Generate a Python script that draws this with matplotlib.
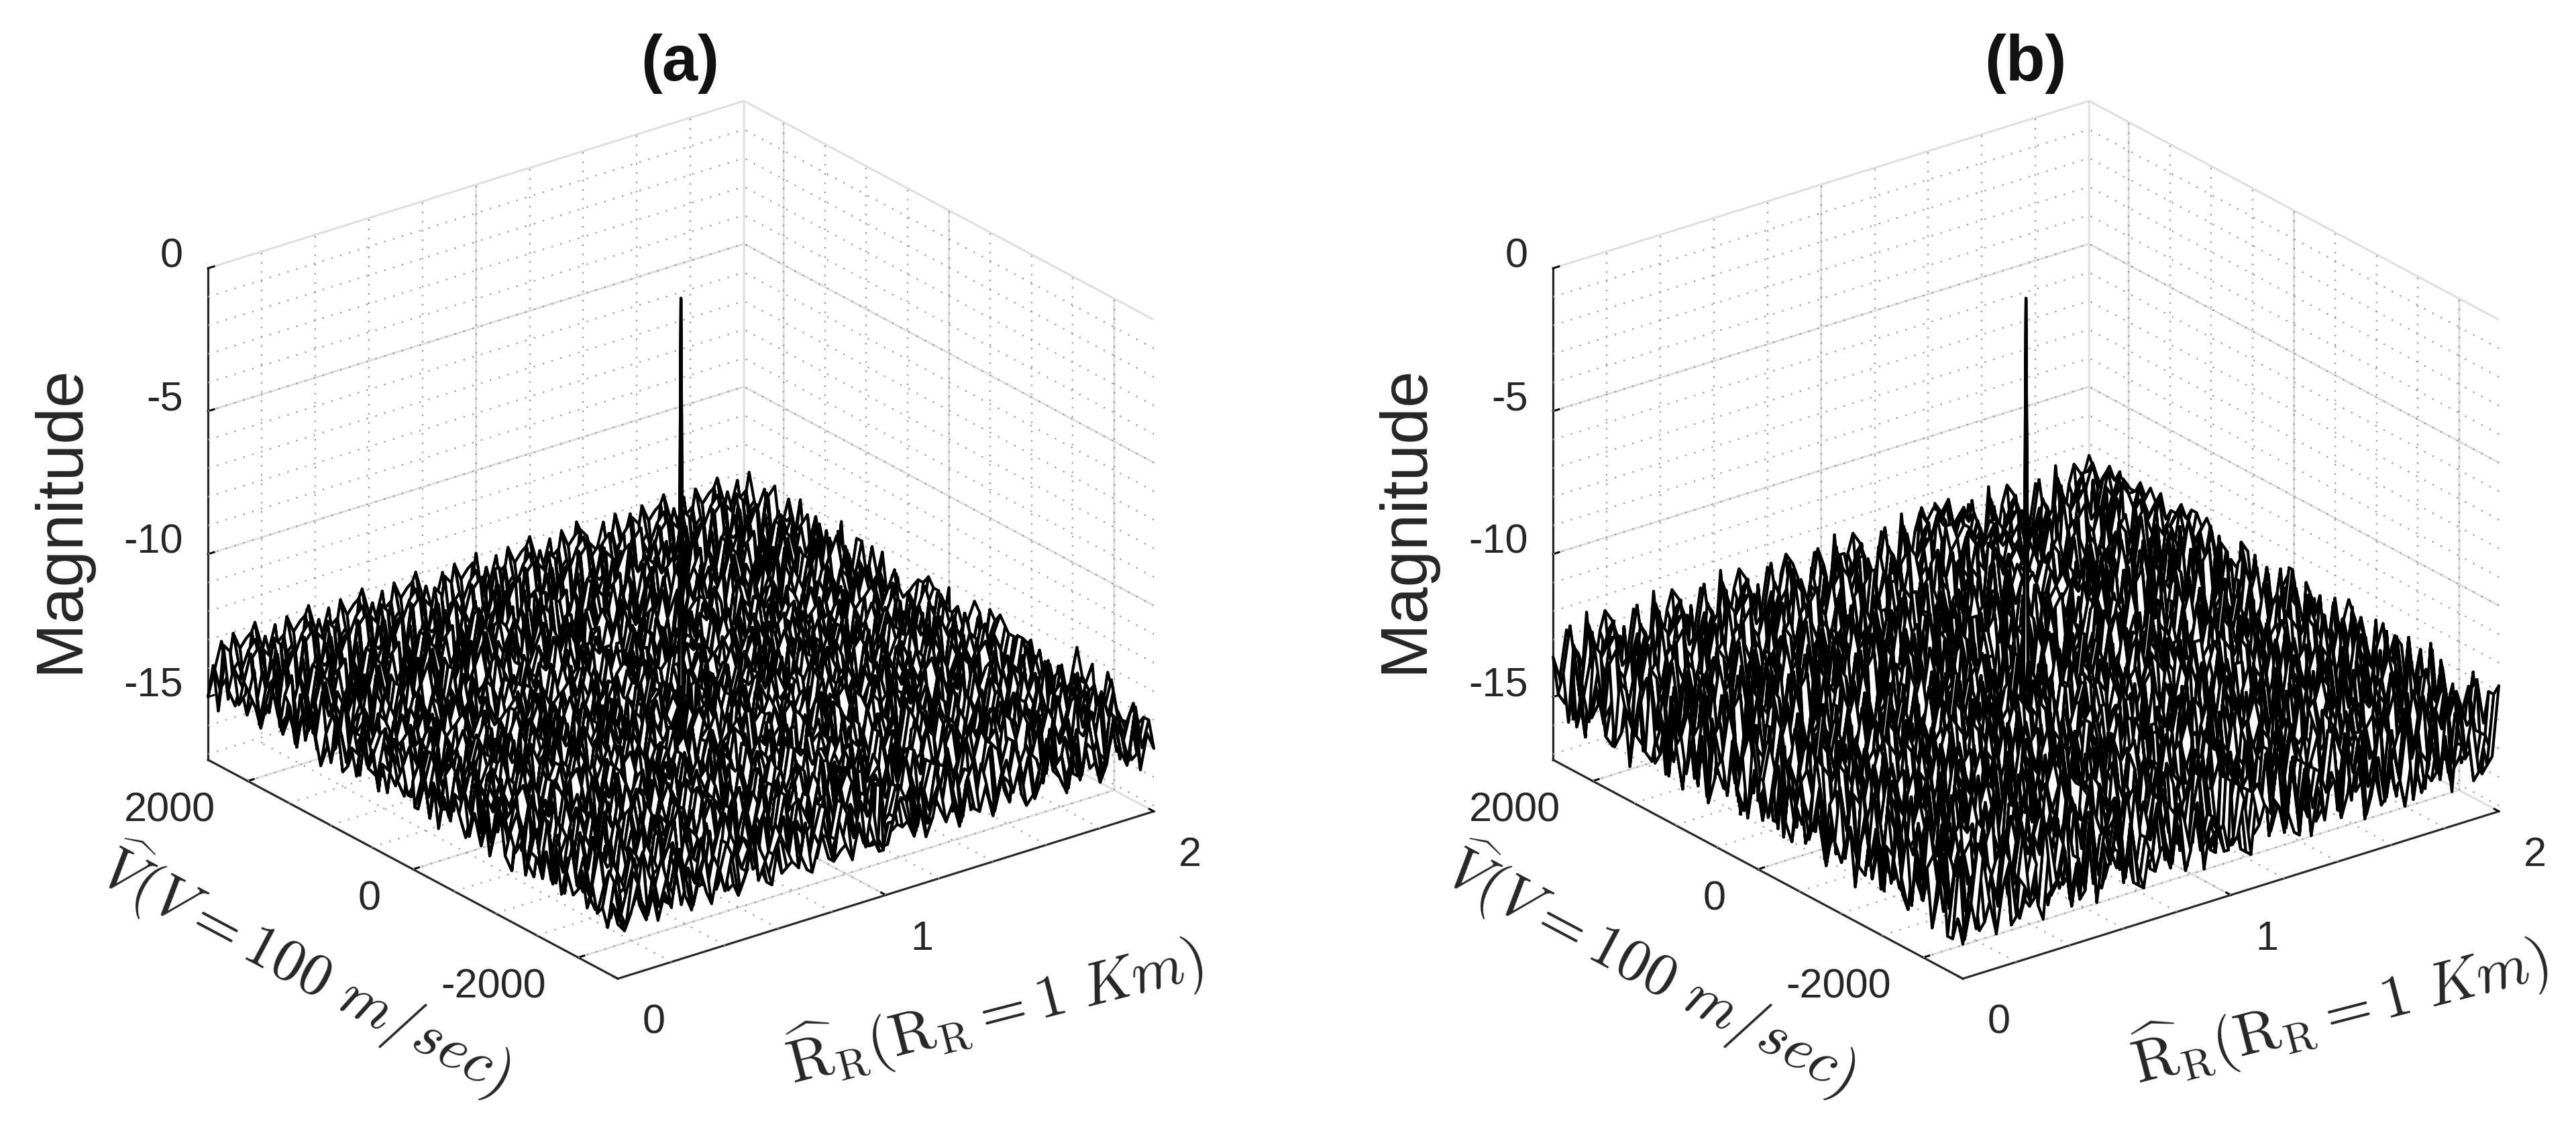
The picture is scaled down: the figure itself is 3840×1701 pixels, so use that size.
import numpy as np
import matplotlib
matplotlib.use("Agg")
import matplotlib.pyplot as plt
from matplotlib.transforms import Bbox
from mpl_toolkits.mplot3d import proj3d

R_TICKS = [0, 1, 2]
V_TICKS = [-2000, 0, 2000]
Z_TICKS = [-15, -10, -5, 0]
R_LIM = (0, 2)
V_LIM = (-2480, 2480)
Z_LIM = (-17.2, 0)
PEAK_A = -0.15
PEAK_B = -0.15
TITLES = ["(a)", "(b)"]
XLABEL = r"$\widehat{\mathrm{R}}_{\mathrm{R}}(\mathrm{R}_{\mathrm{R}}=1\ Km)$"
YLABEL = r"$\widehat{V}(V=100\ m/sec)$"
ZLABEL = "Magnitude"

# Hand-estimated magnitude levels, one digit per mesh node (rows: V, columns: R)
LEVELS_A = [
"102514031720360415027130542160371520416023751402613057140362501473206154027316042",
"310620514273041536102740351620473015264170352061427305162043715026340517203641725",
"051472036150427316052471360254173026514072361504273160524713062541730265140723615",
"263015741206354170263541702615340726153047261350472613504276135047261530472165304",
"140537216405273614085273160482751630847251640385271640385271406352817460352718046",
"482625047381625407361824057381625047368251407362851407362581436207158346207185342",
"137508624173580624137590624173580624135807264315807264135807673158426735184267351",
"520473165820473165824073615824073615284730615284736105824736152874361528473610582",
"361847205163847205168374052613847052618374025618374205168347236185470236158472036",
"725016384725013684720513684752031684720536184725013648720516372850613472805164738",
"418372506418375206413875260418372560418375206418372506413872541738250641738520641",
"152736048512736048521736084512730648512736084521736048512736415273608415267308451",
"638405172738410527263841057263841052763841075263814507263841063841752063814750268",
"270516438627051643862705146386270514638627051463862701546386270561483762501483765",
"514638271546283715462837154628371546287315468237154682371546251468371524683175246",
"382740516382740513682740516387240516382745016382740561382740538274106352817406359",
"716052837416052873416025837416052837416058237416502837416052871605238741605283741",
"438271605438271650438217605483271605438271605432871605438276143827160543872165043",
"165403827651403827615403826715403827615430827615403827651403816540382761540382706",
"620738154620738154627038154620731854620738156420738154620738562073815462703815462",
"348176205348176205384176250348176205348172605348176205348176534817620538417625034",
"572614038572614083572610438572614038576214038572614035872614357261403857614038572",
"206385741602385741620385714620385741620835741620387541620385720638574120385741620",
"741520638741526038741520683741520638745120638741520638714520674152063874125063874",
"483716254837162548371625483716258437162548371625438716254837648371625483716254837",
"156278431562784315627843156278431526784315627843152678431562715627843156278431526",
"627451386274513862745138627451382674513862745136827451386274562745138627451386274",
"375814267375814267375814263758142673581426737581426735814267337581426735814267375",
"514682735146827351468273514628735146827354168273514682731546851468273514682735146",
"283756148237561482375614823756184237561482375614827356148237528375614823756148237",
"746281537462815374628153746281537468215374628153746218537462874628153746281537468",
"417538624175386241753862417538624157386241753862471538624175341753862417538624157",
"652817436528174365281743652817435628174365281743652871436528165281743652817436528",
"384762518374625183746251837462518374621583746251834762518374638476251837462518374",
"527386147527386145273861475273861457238614752738614527386145252738614752738614527",
"178625437186254371862543718625437168254371862547318625437186217862543718625437168",
"635281746352817463528174635281764352817463528176435281746352863528174635281746352",
"482756318427563184275631842756318472563184275613842756318427548275631842756318472",
"716438526164385271643852716438527614385271643825716438527164371643852716438527164",
"258617435861743528617435286174352816743528617453286174352861725861743586174352861",
"573846217538462175384621753846217583462175384627153846217538457384621753846217538",
"346281753642817536428175364281753624817536428157364281753642834628175364281753642",
"681735426817354268173542681735428617354268173524681735426817368173542681735426817",
"427568134275681342756813427568134257681342756831427568134275642756813427568134257",
"753842617538426175384261753842615738426175384216753842617538475384261753842617538",
"286417538641753864175386417538641735864175386471538641753864128641753864175386417",
"542786315427863154278631542786314527863154278613542786315427854278631542786315427",
"375618427356184273561842735618427365184273561824735618427356137561842735618427356",
"618352746813527468135274681352748613527468135247681352746813561835274681352746813",
"457283614572836145728361457283641572836145728316457283614572845728361457283614572",
"732645817326458173264581732645813726458173264518732645817326473264581732645817326",
"285716438571643857164385716438527164385716438562716438571643828571643857164385716",
"546387215463872154638721546387251463872154638712546387215463854638721546387215463",
"371852643718526437185264371852634718526437185246371852643718537185264371852643718",
"624573816245738162457381624573812645738162457318624573816245762457381624573816245",
"813562947381562947381562974381562947381526947381562947385162981356294738156294738",
"269417538264175382641753826417583264175382641753264175382641726941753826417538264",
"574836126748361267483612674836217483612674836127483612674386157483612674836126748",
"138625794138625791386257941386257914386257941386275941386257913862579413862579138",
"496271853962718539627185396271853692718539627185369271853962749627185396271853962",
"725184639251846392518463925184639521846392518463925814639251872518463925184639251",
"361957284619572846195728461957284169572846195728461957248619536195728461957284619",
"847326159473261594732615947326159743261594732615947362159473684732615947326159473",
"253698417536984175369841753698417253698417536984175369481753625369841753698417536",
"618472935184729351847293518472935618472935184729351847923518461847293518472935184",
"792536148925361489253614892536148792536148925361489253164892579253614892536148925",
"345861927458619274586192745861927345861927458619274586129745834586192745861927458",
"926174385261743852617438526174385926174385261743852617483526192617438526174385261",
"581349276813492768134927681349276581349276813492768134972681358134927681349276813",
"473925618739256187392561873925618473925618739256187392651873947392561873925618739",
"269584137695841376958413769584137269584137695841376958143769526958413769584137695",
"814637925146379251463792514637925814637925146379251463729514681463792514637925146",
"537291864372918643729186437291864537291864372918643729168437253729186437291864372",
"692458371924583719245837192458371692458371924583719245873192469245837192458371924",
"348916527489165274891652748916527348916527489165274891625748934891652748916527489",
"751364982513649825136498251364982751364982513649825136489251375136498251364982513",
"426897135268971352689713526897135426897135268971352689735268942689713526897135268",
"983415762834157628341576283415762983415762834157628341567283498341576283415762834",
"175629483756294837562948375629483175629483756294837562984375617562948375629483756",
"634978251349782513497825134978251634978251349782513497852134963497825134978251349",
"258143796581437965814379658143796258143796581437965814397658125814379658143796581",
]

LEVELS_B = [
"051730461825073614280537162047318526043172506438172604153827025173046182507361428",
"203815270436182750417263815042731605824371605284317062538174603815270436182750417",
"072506148302751638407152638041726530814273605148372061538402772506148302751638407",
"058427306248517036284710536281407352648103725618047362501843658427306248517036284",
"726041835726104835172680431572604813576201483517602483157260426041835726104835172",
"481367502148365720148637502186347502143865720184365702148367581367502148365720148",
"037512846803751284603715284607351248603571284630571284603751237512846803751284603",
"564208731564280713564208713564082731546082735164208731564208764208731564280713564",
"291847365029184736502198473650291847360529187436502918473650218473650291847365021",
"637501482763510482736501428763501482736510487263501482736501437501482763510482736",
"184036275918403627518406327591840362759184036275918043627591840362759184036275184",
"752819634075281963407528196340752891634075281936407528196340752819634075281963407",
"306472851930647285193064728519306478251930647285139064728519306472851930647285193",
"815203746181520374618152037461815230746181520376418152037461815203746181520374618",
"273946105827394610582739461058273941605827394615082739461058273946105827394610582",
"541068729354106872935410687293541086729354106827935410687293541068729354106872935",
"186325094718632509471863250947186325049718632590471863250947186325094718632509471",
"629741830562974183056297418305629748130562974138056297418305629741830562974183056",
"350876291435087629143508762914350872691435087692143508762914350876291435087629143",
"714293506871429350687142935068714295306871429356087142935068714293506871429350687",
"468510279346851027934685102793468512079346851072934685102793468510279346851027934",
"093726841509372684150937268415093728641509372648150937268415093726841509372684150",
"526481903752648190375264819037526418903752648109375264819037526481903752648190375",
"281053796428105379642810537964281057396428105397642810537964281053796428105379642",
"847619235084761923508476192350847612350847619253084761923508847619235084761923508",
"315970482631597048263159704826315907482631597084263159704826315970482631597048263",
"672345819067234581906723458190672348519067234518906723458190672345819067234581906",
"149827063514982706351498270635149820635149827063514982706351149827063514982706351",
"703586421970358642197035864219703584621970358624197035864219703586421970358642197",
"461293805746129380574612938057461298305746129308574612938057461293805746129380574",
"298701546329870154632987015463298710546329870145632987015463298701546329870154632",
"534067291853406729185340672918534076291853406791853406729185534067291853406729185",
"815632970481563297048156329704815639704815632970481563297048815632970481563297048",
"367298405136729840513672984051367294051367298405136729840513367298405136729840513",
"642915738064291573806429157380642917380642915738064291573806642915738064291573806",
"175846309217584630921758463092175843092175846309217584630921175846309217584630921",
"720438591672043859167204385916720435916720438591672043859167720438591672043859167",
"493167028549316702854931670285493170285493167028549316702854493167028549316702854",
"268594317026859431702685943170268543170268594317026859431702268594317026859431702",
"581720634958172063495817206349581706349581720634958172063495581720634958172063495",
"346072859134607285913460728591346028591346072859134607285913346072859134607285913",
"839215640783921564078392156407839256407839215640783921564078839215640783921564078",
"152748936015274893601527489360152789360152748936015274893601152748936015274893601",
"684039721568403972156840397215684097215684039721568403972156684039721568403972156",
"319657204831965720483196572048319620483196572048319657204836319657204831965720483",
"745280619374528061937452806193745261937452806193745280619375745280619374528061937",
"270836195427083619542708361954270819542708361954270836195467270836195427083619542",
"596317480259631748025963174802596348025963174802596317480258596317480259631748025",
"428165930742816593074281659307428193074281659307428165936748428165930742816593074",
"853704261985370426198537042619853726198537042619853704261976853704261985370426198",
"167489305216748930521674893052167430521674893052167489305879167489305216748930521",
"602951384760295138476029513847602938476029513847602951384968602951384760295138476",
"384517629038451762903845176290384562903845176290384517629876384517629038451762903",
"719640253871964025387196402538719625387196402538719640256987719640253871964025387",
"256391840725639184072563918407256384072563918407256391857869256391840725639184072",
"571804632957180463295718046329571863295718046329571804678958571804632957180463295",
"409276318540927631854092763185409231854092763185409276859796409276318540927631868",
"836512907483651290748365129074836590748365129074836518967879836512907483651290789",
"174638059217463805921746380592174605921746380592174638976968174638059217463805978",
"628195740362819574036281957403628174036281957403628196857986628195740362819574069",
"350721486935072148693507214869350748693507214869350747968797350721486935072148679",
"947261385094726138509472613850947213850947261385094726139587947261385094726138598",
"216593847021659384702165938470216584702165938470216593848796216593847021659384789",
"783140592678314059267831405926783159267831405926783140597868783140592678314059278",
"465028917346502891734650289173465091734650289173465028978979465028917346502891768",
"091873456209187345620918734562091845620918734562091873467896091873456209187345697",
"538426097153842609715384260971538409715384260971538426098789538426097153842609789",
"762905183476290518347629051834762918347629051834762905198698762905183476290518378",
"124769358012476935801247693580124793580124769358012476937987124769358012476935889",
"895310672489531067248953106724895367248953106724895310676879895310672489531067298",
"347682901534768290153476829015347690153476829015347682909698347682901534768290179",
"610245789361024578936102457893610278936102457893610245798789610245789361024578988",
"982537164098253716409825371640982564098253716409825371659879982537164098253716498",
"253896470125389647012538964701253870125389647012538964789697253896470125389647097",
"476120938547612093854761209385476193854761209385476120996878476120938547612093879",
"709358216470935821647093582164709316470935821647093582187969709358216470935821698",
"831467905283146790528314679052831405283146790528314679078798831467905283146790589",
"164975820316497582031649758203164920316497582031649758298679164975820316497582078",
"590283647159028364715902836471590247159028364715902836479868590283647159028364797",
"327640198532764019853276401985327698532764019853276401989797327640198532764019888",
"648019375264801937526480193752648075264801937526480193796989648019375264801937579",
]


def parse_levels(rows, base, step):
    n = min(len(r) for r in rows)
    return base + step * np.array([[int(c) for c in r[:n]] for r in rows], float)


plt.rcParams["font.family"] = ["Liberation Sans", "DejaVu Sans"]
plt.rcParams["mathtext.fontset"] = "cm"
plt.rcParams["grid.color"] = "#dedede"
plt.rcParams["grid.linewidth"] = 0.7

W, H, DPI = 3840, 1702, 300
DARK = "#262626"
fig = plt.figure(figsize=(W / DPI, H / DPI), dpi=DPI, facecolor="white")


def pin_label(ax, axis, tx, ty):
    """Keep an axis label centred on a measured pixel at draw time."""
    label = axis.label
    original_draw = label.draw

    def draw(renderer):
        label.set_position(ax.transData.inverted().transform((tx, H - ty)))
        original_draw(renderer)

    label.draw = draw


def panel(levels, base, step, peak, title, xoff):
    ax = fig.add_axes([0.25, 0.1, 0.5, 0.5 * W / H], projection="3d",
                      computed_zorder=False)
    ax.set_proj_type("ortho")
    ax.view_init(elev=24.1, azim=-127.4)
    ax.set_box_aspect((1006, 1006, 803))
    ax.set_xlim(*R_LIM, view_margin=0)
    ax.set_ylim(*V_LIM, view_margin=0)
    ax.set_zlim(*Z_LIM, view_margin=0)

    # Place the axes so the box corners land on the measured pixels
    def px(x, y, z):
        ax.apply_aspect()
        a, b, _ = proj3d.proj_transform(x, y, z, ax.get_proj())
        return ax.transData.transform((a, b))

    fig.canvas.draw()
    p0 = px(R_LIM[0], V_LIM[0], Z_LIM[0])
    p1 = px(R_LIM[1], V_LIM[0], Z_LIM[0])
    side = ax.get_position().width * W * 799.0 / (p1[0] - p0[0])
    pos = ax.get_position()
    ax.set_position([pos.x0, pos.y0, side / W, side / H])
    fig.canvas.draw()
    p0 = px(R_LIM[0], V_LIM[0], Z_LIM[0])
    pos = ax.get_position()
    dx = 921 + xoff - p0[0]
    dy = (H - 1460) - p0[1]
    ax.set_position([pos.x0 + dx / W, pos.y0 + dy / H, pos.width, pos.height])
    fig.canvas.draw()

    for axis in (ax.xaxis, ax.yaxis, ax.zaxis):
        axis.pane.set_visible(False)
        axis.line.set_color(DARK)
        axis.line.set_linewidth(0.75)
        axis._axinfo["tick"]["color"] = DARK
        axis._axinfo["tick"]["inward_factor"] = 0.0
        axis._axinfo["tick"]["outward_factor"] = 0.14
        axis._axinfo["tick"]["linewidth"] = {True: 0.7, False: 0.5}

    ax.set_xticks(R_TICKS)
    ax.set_yticks(V_TICKS)
    ax.set_zticks(Z_TICKS)
    ax.set_xticklabels([str(t) for t in R_TICKS])
    ax.set_yticklabels([str(t) for t in V_TICKS])
    ax.set_zticklabels([str(t) for t in Z_TICKS])
    ax.tick_params(axis="x", labelsize=14.7, labelcolor=DARK, pad=9.5)
    ax.tick_params(axis="y", labelsize=14.7, labelcolor=DARK, pad=4)
    ax.tick_params(axis="z", labelsize=14.7, labelcolor=DARK, pad=-2.7)
    for lab in ax.yaxis.get_ticklabels() + ax.zaxis.get_ticklabels():
        lab.set_ha("right")
        lab.set_va("baseline")
    for lab in ax.xaxis.get_ticklabels():
        lab.set_va("bottom")
    ax.grid(True)

    # Dotted minor grid on the three back walls
    dot = dict(color="#9a9a9a", lw=0.55, ls=(0, (1, 5)), zorder=1)
    minor_r = np.arange(0.2, 2.0, 0.2)
    minor_v = np.arange(-2000, 2001, 500)
    minor_z = np.arange(-17, 0, 1)
    for r in minor_r:
        ax.plot([r, r], V_LIM, [Z_LIM[0]] * 2, **dot)
        ax.plot([r, r], [V_LIM[1]] * 2, Z_LIM, **dot)
    for v in minor_v:
        ax.plot(R_LIM, [v, v], [Z_LIM[0]] * 2, **dot)
        ax.plot([R_LIM[1]] * 2, [v, v], Z_LIM, **dot)
    for z in minor_z:
        ax.plot(R_LIM, [V_LIM[1]] * 2, [z, z], **dot)
        ax.plot([R_LIM[1]] * 2, V_LIM, [z, z], **dot)

    # Mesh, with two narrow extra lines each way so the peak stays thin
    Z = parse_levels(levels, base, step)
    nv, nr = Z.shape
    r = np.linspace(*R_LIM, nr)
    v = np.linspace(*V_LIM, nv)
    c, d = nr // 2, nv // 2
    r2 = np.concatenate([r[:c], [r[c] - 0.009, r[c], r[c] + 0.009], r[c + 1:]])
    v2 = np.concatenate([v[:d], [v[d] - 22, v[d], v[d] + 22], v[d + 1:]])
    Z2 = np.hstack([Z[:, :c], Z[:, [c - 1]], Z[:, [c]], Z[:, [c + 1]], Z[:, c + 1:]])
    Z2 = np.vstack([Z2[:d], Z2[[d - 1]], Z2[[d]], Z2[[d + 1]], Z2[d + 1:]])
    Z2[d + 1, c + 1] = peak
    RR, VV = np.meshgrid(r2, v2)
    ax.plot_surface(RR, VV, Z2, rstride=1, cstride=1, color="white", shade=False,
                    edgecolor="black", linewidth=1.0, antialiased=True, zorder=5)

    # Axis labels and title
    ax.xaxis.set_rotate_label(False)
    ax.yaxis.set_rotate_label(False)
    ax.zaxis.set_rotate_label(False)
    ax.set_xlabel(XLABEL, fontsize=21.6, rotation=14.5, color=DARK, labelpad=0)
    ax.set_ylabel(YLABEL, fontsize=21.6, rotation=-28, color=DARK, labelpad=0)
    ax.set_zlabel(ZLABEL, fontsize=23.6, rotation=90, color=DARK, labelpad=0)
    pos = ax.get_position()
    fx = (1014 + xoff - pos.x0 * W) / (pos.width * W)
    fy = (H + 10 - pos.y0 * H) / (pos.height * H)
    ax.set_title(title, fontsize=23, fontweight="bold", color="#111111", x=fx, y=fy, va="center")
    pin_label(ax, ax.xaxis, 1482 + xoff, 1506)
    pin_label(ax, ax.yaxis, 457 + xoff, 1445)
    pin_label(ax, ax.zaxis, 90 + xoff, 774)
    ax.yaxis.label.set_clip_on(True)
    ax.yaxis.label.set_clip_box(Bbox([[0, H - 1646], [W, H]]))
    return ax


panel(LEVELS_A, -15.6, 0.30, PEAK_A, TITLES[0], 0)
panel(LEVELS_B, -16.0, 0.40, PEAK_B, TITLES[1], 2005)
fig.savefig("out.png", dpi=DPI, facecolor="white")
